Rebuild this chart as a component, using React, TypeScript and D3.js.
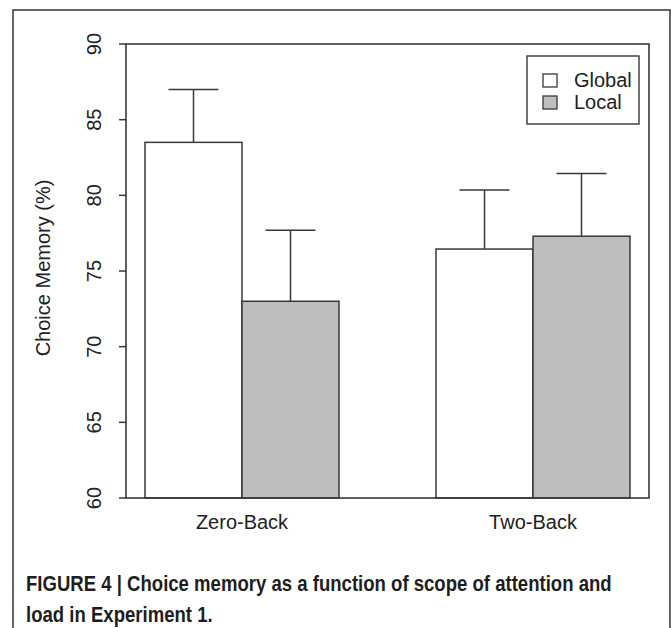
import React from 'react'
import * as d3 from 'd3'

// chart data
const loads = ['Zero-Back', 'Two-Back']
const scopes = ['Global', 'Local']
const means = [
  [83.5, 73.0],
  [76.45, 77.3]
]
const upper = [
  [87.0, 77.7],
  [80.35, 81.45]
]
const yTicks = [60, 65, 70, 75, 80, 85, 90]
const fills = ['#ffffff', '#bebebe']
const caption = [
  'FIGURE 4 | Choice memory as a function of scope of attention and',
  'load in Experiment 1.'
]

const W = 671
const H = 628
const plot = {left: 126, right: 649, top: 44, bottom: 498}
const line = '#383838'
const font = '"Liberation Sans", Arial, sans-serif'
const capFont = 'bold 22px "Liberation Sans", Arial, sans-serif'

// squeeze the caption horizontally like a condensed face
function captionScale() {
  if (typeof document === 'undefined') return 0.8
  const ctx = document.createElement('canvas').getContext('2d')
  if (!ctx) return 0.8
  ctx.font = capFont
  return 586 / ctx.measureText(caption[0]).width
}

export default function App() {
  const x = d3
    .scaleBand()
    .domain(loads)
    .range([plot.left, plot.right])
    .paddingInner(1 / 3)
    .paddingOuter(0.0653)
  const xInner = d3
    .scaleBand()
    .domain(scopes)
    .range([0, x.bandwidth()])
  const y = d3
    .scaleLinear()
    .domain([60, 90])
    .range([plot.bottom, plot.top])

  const bw = xInner.bandwidth()
  const cap = bw * 0.515
  const sx = captionScale()

  return (
    <svg
      width={W}
      height={H}
      style={{position: 'absolute', left: 0, top: 0, background: '#fff'}}
    >
      {/* figure frame */}
      <rect x={13} y={10} width={657} height={640} fill="none" stroke="#333" strokeWidth={1.5} />

      {/* bars */}
      {loads.map((g, i) => (
        <g key={g} transform={`translate(${x(g)},0)`}>
          {scopes.map((s, j) => {
            const bx = xInner(s) as number
            const cx = bx + bw / 2
            return (
              <g key={s}>
                <line x1={cx} x2={cx} y1={y(means[i][j])} y2={y(upper[i][j])} stroke={line} strokeWidth={1.5} />
                <line x1={cx - cap / 2} x2={cx + cap / 2} y1={y(upper[i][j])} y2={y(upper[i][j])} stroke={line} strokeWidth={1.5} />
                <rect
                  x={bx}
                  y={y(means[i][j])}
                  width={bw}
                  height={y(60) - y(means[i][j])}
                  fill={fills[j]}
                  stroke={line}
                  strokeWidth={1.5}
                />
              </g>
            )
          })}
        </g>
      ))}

      {/* plot box */}
      <rect
        x={plot.left}
        y={plot.top}
        width={plot.right - plot.left}
        height={plot.bottom - plot.top}
        fill="none"
        stroke={line}
        strokeWidth={1.6}
      />

      {/* y axis */}
      {yTicks.map(t => (
        <g key={t}>
          <line x1={plot.left - 7} x2={plot.left} y1={y(t)} y2={y(t)} stroke={line} strokeWidth={1.5} />
          <text
            transform={`translate(101,${y(t)}) rotate(-90)`}
            textAnchor="middle"
            fontFamily={font}
            fontSize={20}
            fill="#222"
          >
            {t}
          </text>
        </g>
      ))}
      <text
        transform={`translate(50,${(plot.top + plot.bottom) / 2 - 3}) rotate(-90)`}
        textAnchor="middle"
        fontFamily={font}
        fontSize={20}
        fill="#222"
      >
        Choice Memory (%)
      </text>

      {/* x labels */}
      {loads.map(g => (
        <text
          key={g}
          x={(x(g) as number) + x.bandwidth() / 2}
          y={529}
          textAnchor="middle"
          fontFamily={font}
          fontSize={20}
          fill="#222"
        >
          {g}
        </text>
      ))}

      {/* legend */}
      <rect x={527} y={56} width={112} height={68} fill="#fff" stroke={line} strokeWidth={1.4} />
      {scopes.map((s, j) => (
        <g key={s} transform={`translate(543,${74 + j * 22})`}>
          <rect x={0} y={0} width={14} height={13} fill={fills[j]} stroke={line} strokeWidth={1.3} />
          <text x={31} y={13} fontFamily={font} fontSize={20} fill="#222">
            {s}
          </text>
        </g>
      ))}

      {/* caption */}
      <g transform={`translate(26,0) scale(${sx},1)`}>
        {caption.map((c, i) => (
          <text
            key={i}
            x={0}
            y={591 + i * 31}
            fontFamily={font}
            fontWeight="bold"
            fontSize={22}
            fill="#1e1e1e"
          >
            {c}
          </text>
        ))}
      </g>
    </svg>
  )
}
